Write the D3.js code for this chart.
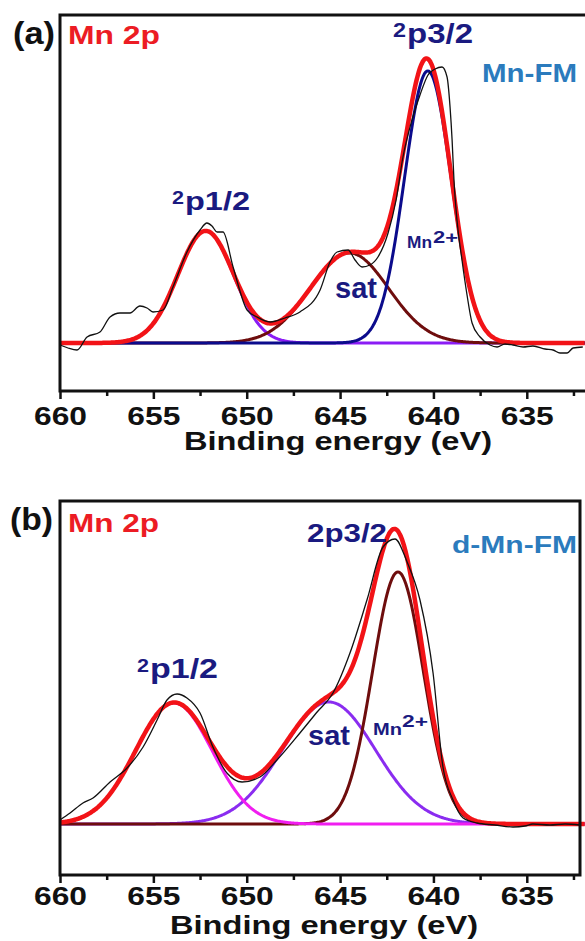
<!DOCTYPE html>
<html>
<head>
<meta charset="utf-8">
<script src="https://cdn.jsdelivr.net/npm/d3@7"></script>
<style>
  body { margin: 0; background: #fff; }
  svg { display: block; }
  text { font-family: "Liberation Sans", Arial, sans-serif; font-weight: bold; }
</style>
</head>
<body>
<svg id="chart" width="585" height="941"></svg>
<script>
// x axis
const majorTicks = [660, 655, 650, 645, 640, 635];
const minorTicks = [657.5, 652.5, 647.5, 642.5, 637.5, 632.5];
const xTitle = "Binding energy (eV)";

const energyA = [660.0, 659.57, 659.09, 658.55, 657.86, 657.32, 656.79, 656.25, 655.72, 655.34,
  655.02, 654.48, 653.95, 653.20, 652.50, 652.13, 651.86, 651.59, 651.27, 650.73,
  649.98, 649.45, 648.75, 647.95, 647.15, 646.07, 645.54, 645.16, 644.57, 644.20,
  643.82, 643.40, 642.97, 642.43, 642.00, 641.63, 641.15, 640.72, 640.29, 639.91,
  639.54, 639.27, 639.11, 639.00, 638.90, 638.74, 638.47, 638.20, 637.93, 637.50,
  636.97, 636.59, 636.17, 635.74, 635.20, 634.67, 634.02, 633.59, 633.22, 632.84,
  632.52, 632.0];
const countsA = [-2, -5, -7, 6, 11, 26, 30, 30, 37, 35,
  31, 33, 56, 91, 113, 120, 117, 111, 111, 76,
  33, 26, 21, 25, 31, 53, 81, 91, 93, 83,
  76, 78, 86, 110, 143, 186, 223, 248, 268, 274,
  276, 266, 236, 203, 163, 123, 83, 48, 20, 6,
  -2, -4, -1, -2, -4, -3, -6, -7, -10, -10,
  -5, -4];

// panel (a) fitted components
const peakNamesA = ["2p1/2", "sat", "Mn2+"];
const peakCentersA = [652.2, 644.5, 640.3];
const peakHeightsA = [112, 90, 272];
const peakSigmasA = [1.5, 2.1, 1.25];

// panel (b) d-Mn-FM : measured spectrum
const energyB = [660.0, 659.46, 658.77, 658.23, 657.32, 656.41, 655.55, 654.80, 654.27, 653.73,
  653.20, 652.50, 651.81, 651.06, 650.25, 649.29, 648.38, 647.15, 646.23, 645.38,
  644.47, 643.56, 642.70, 642.06, 641.41, 640.72, 640.02, 639.49, 638.95, 638.41,
  637.67, 636.70, 635.74, 635.09, 634.67, 633.76, 632.95, 632.15];
const countsB = [4, 11, 21, 26, 42, 56, 77, 104, 124, 130,
  126, 111, 77, 51, 42, 47, 64, 91, 112, 131,
  171, 224, 277, 285, 262, 224, 151, 57, 24, 6,
  1, -1, -3, -2, 0, -1, 0, -1];

// panel (b) fitted components
const peakNamesB = ["2p1/2", "sat", "Mn2+"];
const peakCentersB = [653.9, 645.6, 641.9];
const peakHeightsB = [121, 122, 252];
const peakSigmasB = [2.05, 2.5, 1.36];

const svg = d3.select("#chart");
const x = d3.scaleLinear().domain([660, 632.15]).range([60, 580]);
const grid = d3.range(660, 631.9, -0.05);

function gauss(e, c, h, s){ return h * Math.exp(-((e - c) ** 2) / (2 * s * s)); }

function drawPanel(p){
  const g = svg.append("g");
  const y = d3.scaleLinear().domain(p.yDomain).range([p.bottom, p.top]);
  const line = d3.line().x(d => x(d[0])).y(d => y(d[1])).curve(d3.curveMonotoneX);

  const comps = p.centers.map((c, i) => grid.map(e => [e, gauss(e, c, p.heights[i], p.sigmas[i])]));
  const total = grid.map((e, j) => [e, d3.sum(comps, cc => cc[j][1])]);

  p.order.forEach(i => {
    g.append("path").attr("d", line(comps[i]))
      .attr("fill", "none").attr("stroke", p.colors[i]).attr("stroke-width", 3);
  });
  g.append("path").attr("d", line(total))
    .attr("fill", "none").attr("stroke", "#f21317").attr("stroke-width", 4.5);

  const meas = p.energy.map((e, i) => [e, p.counts[i]]);
  g.append("path").attr("d", line(meas))
    .attr("fill", "none").attr("stroke", "#111").attr("stroke-width", 1.3);

  // frame
  g.append("rect").attr("x", 60).attr("y", p.top)
    .attr("width", p.right - 60).attr("height", p.bottom - p.top)
    .attr("fill", "none").attr("stroke", "#111").attr("stroke-width", 3);

  const minor = g.append("g").attr("transform", `translate(0,${p.bottom})`)
    .call(d3.axisBottom(x).tickValues(minorTicks).tickSize(5).tickFormat(""));
  minor.select(".domain").remove();
  minor.selectAll("line").attr("stroke", "#111").attr("stroke-width", 2.5);

  const major = g.append("g").attr("transform", `translate(0,${p.bottom})`)
    .call(d3.axisBottom(x).tickValues(majorTicks).tickSize(8));
  major.select(".domain").remove();
  major.selectAll("line").attr("stroke", "#111").attr("stroke-width", 2.5);
  major.selectAll("text")
    .attr("y", p.labelBase - p.bottom).attr("dy", null)
    .attr("font-size", 26).attr("fill", "#111")
    .attr("textLength", 53).attr("lengthAdjust", "spacingAndGlyphs");

  g.append("text").attr("x", p.titleX).attr("y", p.titleBase)
    .attr("text-anchor", "middle").attr("font-size", 26).attr("fill", "#111")
    .attr("textLength", 308).attr("lengthAdjust", "spacingAndGlyphs")
    .text(xTitle);

  p.labels.forEach(l => {
    const t = g.append("text").attr("x", l[0]).attr("y", l[1])
      .attr("font-size", l[3]).attr("fill", l[5]).text(l[4]);
    if (l[2]) t.attr("textLength", l[2]).attr("lengthAdjust", "spacingAndGlyphs");
  });
}

const navy = "#1a1a80";
const steel = "#2b7bbd";

drawPanel({
  top: 15, bottom: 391, right: 590, yDomain: [-48, 328],
  energy: energyA, counts: countsA,
  centers: peakCentersA, heights: peakHeightsA, sigmas: peakSigmasA,
  colors: ["#8b1cf5", "#6e0d0d", "#0b0b8c"], order: [0, 1, 2],
  labelBase: 425, titleX: 338, titleBase: 450,
  labels: [
    [13, 44, 42, 32, "(a)", "#111"],
    [68, 44, 92, 25, "Mn 2p", "#ec1c24"],
    [393, 37, 13, 20, "2", navy],
    [407, 43, 66, 28, "p3/2", navy],
    [482, 82, 95, 26, "Mn-FM", steel],
    [172, 204, 12, 19, "2", navy],
    [185, 210, 65, 25, "p1/2", navy],
    [335, 298, 42, 29, "sat", navy],
    [407, 248, 25, 16, "Mn", navy],
    [433, 243, 25, 16, "2+", navy]
  ]
});

drawPanel({
  top: 501, bottom: 875, right: 580, yDomain: [-51, 323],
  energy: energyB, counts: countsB,
  centers: peakCentersB, heights: peakHeightsB, sigmas: peakSigmasB,
  colors: ["#f01ef0", "#8a2cf0", "#6e0d0d"], order: [1, 2, 0],
  labelBase: 905, titleX: 324, titleBase: 934,
  labels: [
    [10, 530, 43, 32, "(b)", "#111"],
    [68, 532, 91, 25, "Mn 2p", "#ec1c24"],
    [307, 542, 80, 26, "2p3/2", navy],
    [452, 553, 125, 24, "d-Mn-FM", steel],
    [137, 672, 12, 19, "2", navy],
    [150, 678, 68, 27, "p1/2", navy],
    [308, 745, 42, 28, "sat", navy],
    [373, 735, 29, 16, "Mn", navy],
    [402, 727, 26, 17, "2+", navy]
  ]
});
</script>
</body>
</html>
